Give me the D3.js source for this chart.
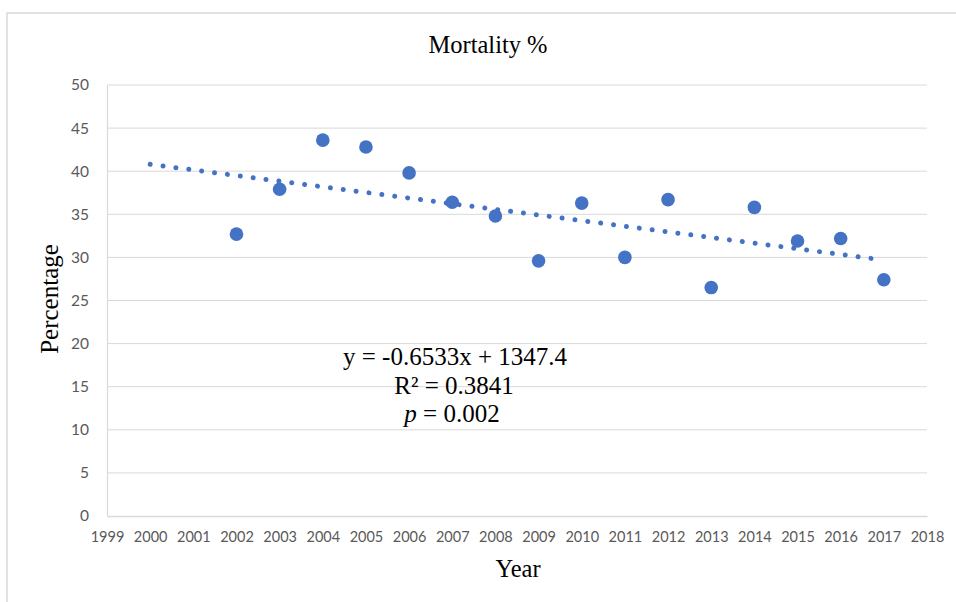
<!DOCTYPE html>
<html>
<head>
<meta charset="utf-8">
<script src="https://cdn.jsdelivr.net/npm/d3@7"></script>
<style>
  html, body { margin: 0; padding: 0; background: #ffffff; }
  svg { display: block; }
</style>
</head>
<body>
<svg id="chart" width="956" height="602"></svg>
<script>
// ---- Data ----
const years = [2002, 2003, 2004, 2005, 2006, 2007, 2008, 2009, 2010, 2011, 2012, 2013, 2014, 2015, 2016, 2017];
const mortality = [32.7, 37.9, 43.6, 42.8, 39.8, 36.4, 34.8, 29.6, 36.3, 30.0, 36.7, 26.5, 35.8, 31.9, 32.2, 27.4];
const xTicks = [1999, 2000, 2001, 2002, 2003, 2004, 2005, 2006, 2007, 2008, 2009, 2010, 2011, 2012, 2013, 2014, 2015, 2016, 2017, 2018];
const yTicks = [0, 5, 10, 15, 20, 25, 30, 35, 40, 45, 50];
const trendSlope = -0.6533;
const trendIntercept = 1347.4;
const trendYears = [2000, 2017];
const annotationLines = ["y = -0.6533x + 1347.4", "R² = 0.3841", "p = 0.002"];
const chartTitle = "Mortality %";
const xTitle = "Year";
const yTitle = "Percentage";

// ---- Layout ----
const svg = d3.select("#chart");
const plotLeft = 107, plotRight = 927, plotTop = 85, plotBottom = 516;
const blue = "#4472C4";
const grid = "#d9d9d9";

// Chart border
svg.append("rect")
  .attr("x", 7).attr("y", 13)
  .attr("width", 1000).attr("height", 700)
  .attr("fill", "none").attr("stroke", grid).attr("stroke-width", 1.5);

const x = d3.scaleLinear().domain([1999, 2018]).range([plotLeft, plotRight]);
const y = d3.scaleLinear().domain([0, 50]).range([plotBottom, plotTop]);

// Gridlines
svg.append("g")
  .selectAll("line")
  .data(yTicks.filter(d => d > 0))
  .join("line")
  .attr("x1", plotLeft).attr("x2", plotRight)
  .attr("y1", d => y(d)).attr("y2", d => y(d))
  .attr("stroke", grid).attr("stroke-width", 1);

// Y axis
const yAxis = svg.append("g")
  .attr("transform", `translate(${plotLeft},0)`)
  .call(d3.axisLeft(y).tickValues(yTicks).tickSize(0).tickPadding(18));
yAxis.select(".domain").attr("stroke", grid).attr("stroke-width", 1.2);
yAxis.selectAll("text")
  .attr("font-family", "Lato, 'Open Sans', sans-serif")
  .attr("font-size", 15.5)
  .attr("fill", "#595959");

// X axis
const xAxis = svg.append("g")
  .attr("transform", `translate(0,${plotBottom})`)
  .call(d3.axisBottom(x).tickValues(xTicks).tickFormat(d3.format("d")).tickSize(0).tickPadding(16));
xAxis.select(".domain").attr("stroke", grid).attr("stroke-width", 1.5);
xAxis.selectAll("text")
  .attr("font-family", "Lato, 'Open Sans', sans-serif")
  .attr("font-size", 14.5)
  .attr("fill", "#595959");

// Trendline (dotted) — dot spacing adjusted so dots land on both ends
const trendData = trendYears.map(yr => ({ yr, v: trendSlope * yr + trendIntercept }));
const trendPath = svg.append("path")
  .datum(trendData)
  .attr("d", d3.line().x(d => x(d.yr)).y(d => y(d.v)))
  .attr("fill", "none")
  .attr("stroke", blue)
  .attr("stroke-width", 5)
  .attr("stroke-linecap", "round");
const len = trendPath.node().getTotalLength();
const nGaps = Math.round(len / 13);
const gap = len / nGaps;
trendPath.attr("stroke-dasharray", `0.01 ${gap - 0.01}`);

// Points
svg.append("g")
  .selectAll("circle")
  .data(years.map((yr, i) => ({ yr, v: mortality[i] })))
  .join("circle")
  .attr("cx", d => x(d.yr))
  .attr("cy", d => y(d.v))
  .attr("r", 6.8)
  .attr("fill", blue);

// Titles
const serif = "'Liberation Serif', 'Times New Roman', serif";
svg.append("text")
  .attr("x", 488).attr("y", 53)
  .attr("text-anchor", "middle")
  .attr("font-family", serif).attr("font-size", 24.5)
  .attr("fill", "#000")
  .text(chartTitle);

svg.append("text")
  .attr("x", 518).attr("y", 577)
  .attr("text-anchor", "middle")
  .attr("font-family", serif).attr("font-size", 24.5)
  .attr("fill", "#000")
  .text(xTitle);

svg.append("text")
  .attr("transform", "translate(58,299) rotate(-90)")
  .attr("text-anchor", "middle")
  .attr("font-family", serif).attr("font-size", 25)
  .attr("fill", "#000")
  .text(yTitle);

// Annotation
const ann = svg.append("g")
  .attr("font-family", serif).attr("font-size", 25).attr("fill", "#000")
  .attr("text-anchor", "middle");
ann.append("text").attr("x", 455).attr("y", 365).text(annotationLines[0]);
ann.append("text").attr("x", 454).attr("y", 394).text(annotationLines[1]);
const t3 = ann.append("text").attr("x", 452).attr("y", 422);
t3.append("tspan").attr("font-style", "italic").text(annotationLines[2].slice(0, 1));
t3.append("tspan").text(annotationLines[2].slice(1));
</script>
</body>
</html>
